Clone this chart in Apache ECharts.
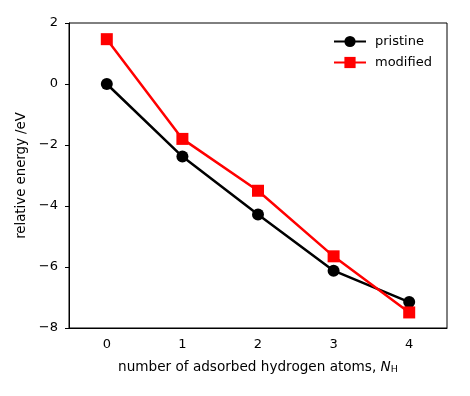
<!DOCTYPE html>
<html>
<head>
<meta charset="utf-8">
<script src="https://cdn.jsdelivr.net/npm/echarts@6/dist/echarts.min.js"></script>
<style>
  html, body { margin: 0; padding: 0; background: #fff; }
  #main { width: 470px; height: 396px; }
</style>
</head>
<body>
<div id="main"></div>
<script>
// data
var hydrogenCount = ['0', '1', '2', '3', '4'];
var pristine = [0, -2.38, -4.28, -6.12, -7.15];
var modified = [1.47, -1.80, -3.50, -5.65, -7.49];

var FONT = 'DejaVu Sans';

var myChart = echarts.init(document.getElementById('main'));

var option = {
    animation: false,
    backgroundColor: '#fff',
    textStyle: { fontFamily: FONT },
    grid: {
        left: 69, right: 23, top: 23, bottom: 68,
        show: true,
        borderColor: '#000',
        borderWidth: 1
    },
    legend: {
        orient: 'vertical',
        left: 328,
        top: 30,
        itemWidth: 32,
        itemHeight: 14,
        itemGap: 8,
        textStyle: { color: '#000', fontSize: 13, fontFamily: FONT, padding: [0, 0, 0, 4] },
        data: ['pristine', 'modified']
    },
    xAxis: {
        type: 'category',
        data: hydrogenCount,
        boundaryGap: true,
        name: '{a|number of adsorbed hydrogen atoms, }{i|N}{s|H}',
        nameLocation: 'middle',
        nameGap: 32,
        nameTextStyle: {
            rich: {
                a: { fontSize: 13.6, fontFamily: FONT, color: '#000' },
                i: { fontSize: 13.6, fontFamily: FONT, fontStyle: 'italic', color: '#000' },
                s: { fontSize: 9.5, fontFamily: FONT, color: '#000', verticalAlign: 'bottom', padding: [5, 0, 0, 0] }
            }
        },
        axisLine: { onZero: false, lineStyle: { color: '#000', width: 1 } },
        axisTick: { alignWithLabel: true, length: 4, lineStyle: { color: '#000' } },
        axisLabel: { color: '#000', fontSize: 13, margin: 10 },
        splitLine: { show: false }
    },
    yAxis: {
        type: 'value',
        min: -8,
        max: 2,
        interval: 2,
        name: 'relative energy /eV',
        nameLocation: 'middle',
        nameGap: 35,
        nameTextStyle: { color: '#000', fontSize: 13.3, fontFamily: FONT },
        axisLine: { show: true, lineStyle: { color: '#000', width: 1 } },
        axisTick: { show: true, length: 4, lineStyle: { color: '#000' } },
        axisLabel: {
            color: '#000', fontSize: 13, margin: 11,
            formatter: function (v) { return String(v).replace('-', '\u2212'); }
        },
        splitLine: { show: false }
    },
    series: [
        {
            name: 'pristine',
            type: 'line',
            data: pristine,
            symbol: 'circle',
            symbolSize: 12,
            itemStyle: { color: '#000' },
            lineStyle: { color: '#000', width: 2.5 },
            emphasis: { disabled: true }
        },
        {
            name: 'modified',
            type: 'line',
            data: modified,
            symbol: 'rect',
            symbolSize: 12,
            itemStyle: { color: '#ff0000' },
            lineStyle: { color: '#ff0000', width: 2.5 },
            emphasis: { disabled: true }
        }
    ]
};

myChart.setOption(option);
</script>
</body>
</html>
